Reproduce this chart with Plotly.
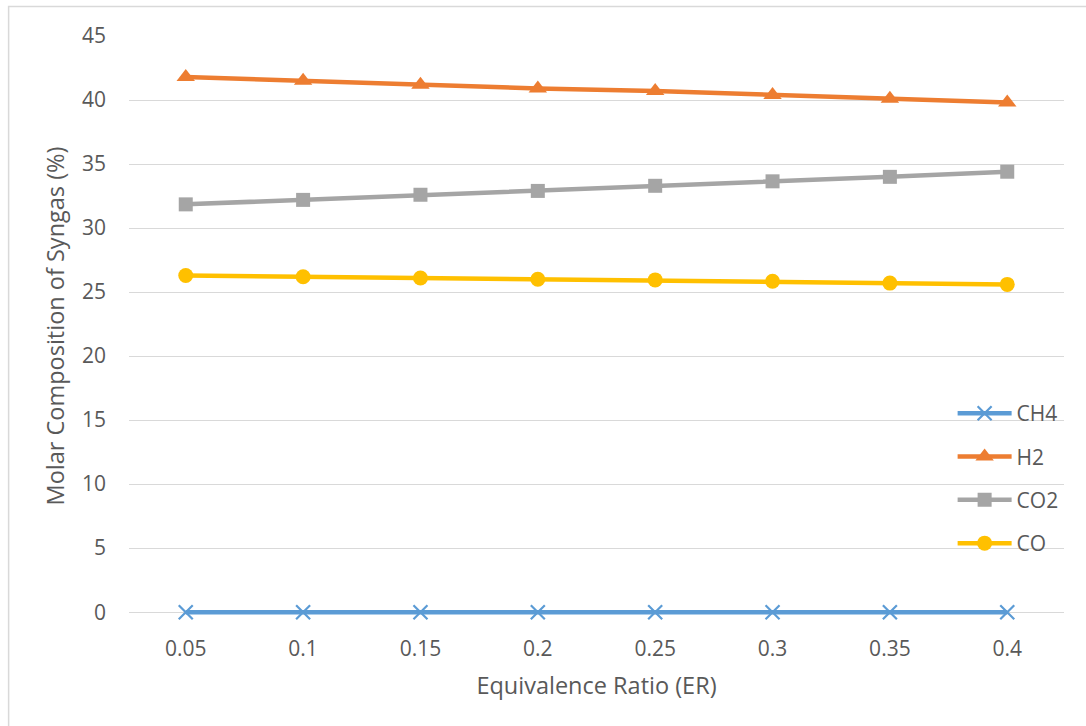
import plotly.graph_objects as go

# Equivalence ratio categories
er = ["0.05", "0.1", "0.15", "0.2", "0.25", "0.3", "0.35", "0.4"]

# Molar composition of syngas (%)
ch4 = [0, 0, 0, 0, 0, 0, 0, 0]
h2 = [41.8, 41.5, 41.2, 40.9, 40.7, 40.4, 40.1, 39.8]
co2 = [31.85, 32.2, 32.6, 32.9, 33.3, 33.65, 34.0, 34.4]
co = [26.3, 26.2, 26.1, 26.0, 25.95, 25.85, 25.7, 25.6]

y_ticks = [0, 5, 10, 15, 20, 25, 30, 35, 40, 45]

FONT = "Open Sans"
TXT = "#595959"
GRID = "#D9D9D9"

series = [
    ("CH4", ch4, "#5B9BD5", dict(symbol="x-thin", size=14, line=dict(width=2.2, color="#5B9BD5"))),
    ("H2", h2, "#ED7D31", dict(symbol="triangle-up", size=16)),
    ("CO2", co2, "#A5A5A5", dict(symbol="square", size=14)),
    ("CO", co, "#FFC000", dict(symbol="circle", size=15)),
]

fig = go.Figure()
for name, vals, color, mk in series:
    fig.add_trace(go.Scatter(
        x=er, y=vals, name=name, mode="lines+markers",
        line=dict(color=color, width=4.5),
        marker=dict(color=color, **mk),
        legendgroup=name, cliponaxis=False,
    ))

W, H = 1086, 726
PX_PER_UNIT = 576 / 45
Y_LOW = -0.3  # small pad so the zero-level line is not clipped
L, R, T = 128.5, 21.5, 36
B = 114 - (-Y_LOW) * PX_PER_UNIT
pw, ph = W - L - R, H - T - B

def px_x(p):
    return (p - L) / pw

def px_y(p):
    return (H - B - p) / ph

fig.update_layout(
    width=W, height=H,
    margin=dict(l=L, r=R, t=T, b=B),
    paper_bgcolor="white", plot_bgcolor="white",
    font=dict(family=FONT, color=TXT, size=20),
    showlegend=True,
    legend=dict(
        x=px_x(953), y=px_y(393), xanchor="left", yanchor="top",
        bgcolor="rgba(0,0,0,0)", font=dict(size=21, color=TXT, family=FONT),
        itemwidth=54, tracegroupgap=13, traceorder="grouped",
    ),
    xaxis=dict(
        type="category", showgrid=False, zeroline=False, showline=False,
        ticks="", tickfont=dict(size=21, color=TXT),
        ticklabelstandoff=18,
        title=dict(text="Equivalence Ratio (ER)", font=dict(size=23.5, color=TXT), standoff=16),
    ),
    yaxis=dict(
        range=[Y_LOW, 45], tickvals=y_ticks, showgrid=True, gridcolor=GRID, gridwidth=1,
        zeroline=False, showline=False, ticks="",
        tickfont=dict(size=21, color=TXT), ticklabelstandoff=22,
        title=dict(text="Molar Composition of Syngas (%)", font=dict(size=23.5, color=TXT), standoff=10),
    ),
    shapes=[dict(
        type="rect", xref="paper", yref="paper", layer="below",
        x0=px_x(8), x1=px_x(1100), y0=px_y(740), y1=px_y(6.5),
        line=dict(color=GRID, width=1.5), fillcolor="rgba(0,0,0,0)",
    )],
)

fig.write_html("out.html")
